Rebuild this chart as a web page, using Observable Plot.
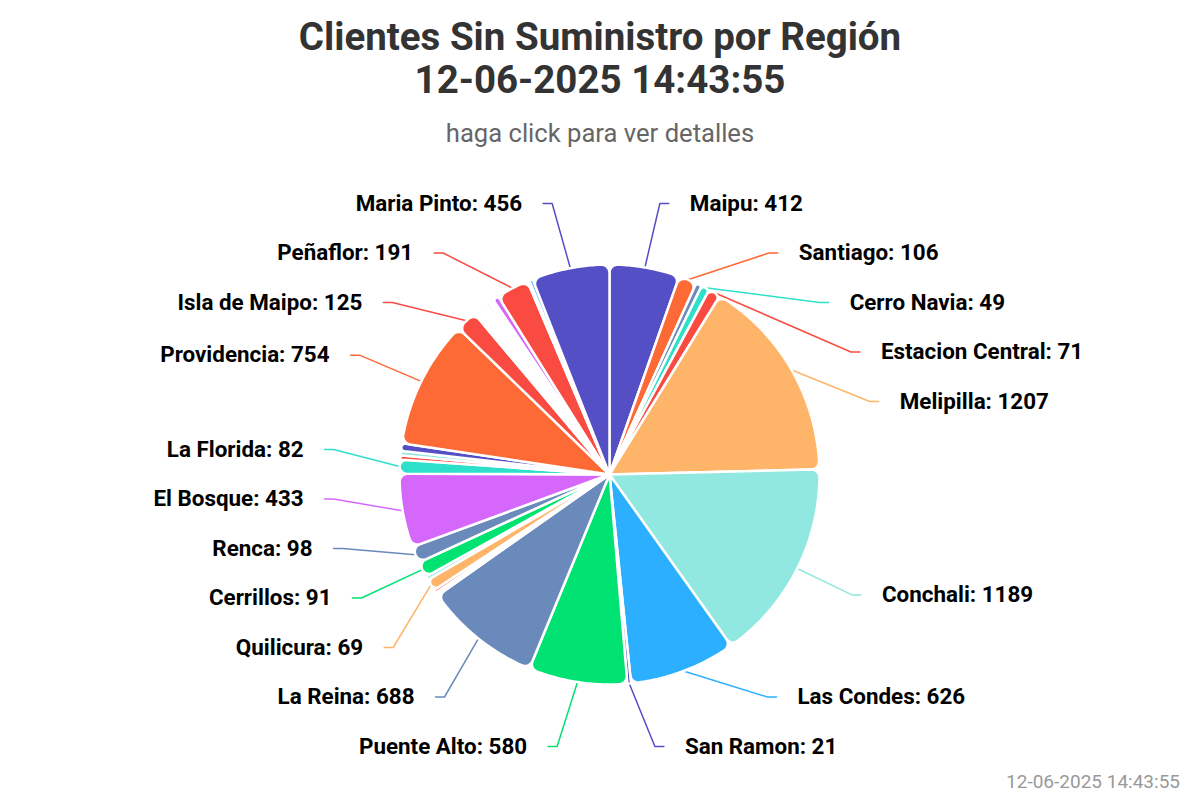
<!DOCTYPE html>
<html>
<head>
<meta charset="utf-8">
<script src="https://cdn.jsdelivr.net/npm/d3@7"></script>
<script src="https://cdn.jsdelivr.net/npm/@observablehq/plot@0.6"></script>
<style>
  body { margin: 0; background: #fff; font-family: Roboto, "Noto Sans", sans-serif; }
  #wrap { position: relative; width: 1200px; height: 800px; overflow: hidden; }
  #header { height: 160px; position: relative; }
  #title { position: absolute; top: 15px; left: 0; width: 1200px; text-align: center;
           font-weight: 700; font-size: 38.5px; line-height: 43px; color: #333333; }
  #subtitle { position: absolute; top: 119px; left: 0; width: 1200px; text-align: center;
              font-size: 25.6px; line-height: 28px; color: #666666; }
  #credit { position: absolute; top: 771px; right: 20px; font-size: 19px; line-height: 22px; color: #999999; }
</style>
</head>
<body>
<div id="wrap">
  <div id="header"><div id="title"></div><div id="subtitle"></div></div>
  <div id="chart"></div>
  <div id="credit"></div>
</div>
<script>
// ---- data ----
const titleLines = ["Clientes Sin Suministro por Región", "12-06-2025 14:43:55"];
const subtitleText = "haga click para ver detalles";
const creditText = "12-06-2025 14:43:55";

// slices clockwise from 12 o'clock ("" = small unlabelled slice)
const regions = [
  "Maipu", "Santiago", "", "Cerro Navia", "Estacion Central", "Melipilla", "Conchali",
  "Las Condes", "San Ramon", "Puente Alto", "La Reina", "", "", "", "Quilicura", "",
  "Cerrillos", "Renca", "El Bosque", "La Florida", "", "", "", "Providencia", "Isla de Maipo",
  "", "", "", "", "", "", "", "", "", "", "Peñaflor", "", "", "Maria Pinto"
];
const values = [
  412, 106, 35, 49, 71, 1207, 1189,
  626, 21, 580, 688, 10, 10, 18, 69, 22,
  91, 98, 433, 82, 25, 25, 45, 754, 125,
  15, 15, 15, 15, 15, 15, 15, 15, 15, 35, 191, 12, 20, 456
];
const sliceColors = [
  "#544fc5", "#fe6a35", "#6b8abc", "#2ee0ca", "#fa4b42", "#feb56a", "#91e8e1",
  "#2caffe", "#544fc5", "#00e272", "#6b8abc", "#91e8e1", "#2ee0ca", "#fa4b42", "#feb56a", "#91e8e1",
  "#00e272", "#6b8abc", "#d568fb", "#2ee0ca", "#fa4b42", "#91e8e1", "#544fc5", "#fe6a35", "#fa4b42",
  "#feb56a", "#91e8e1", "#2caffe", "#544fc5", "#00e272", "#fe6a35", "#6b8abc", "#2ee0ca", "#feb56a",
  "#d568fb", "#fa4b42", "#feb56a", "#2caffe", "#544fc5"
];

// ---- layout ----
const W = 1200, H = 640;          // svg size
const CX = 609, CY = 314, R = 210; // pie centre / radius in svg px
const RC = 8;                      // corner radius px
const LABEL_R = 277, SLOT = 49.5, LABEL_TOP = 43, LABEL_BOTTOM = 586;
const PAD_RIGHT = 23, PAD_LEFT = 30, CONN_END = 21, CONN_BEND = 30;

document.getElementById("title").innerHTML = titleLines.join("<br>");
document.getElementById("subtitle").textContent = subtitleText;
document.getElementById("credit").textContent = creditText;

const data = regions.map((name, i) => ({i, name, value: values[i], color: sliceColors[i]}));
const arcs = d3.pie().sort(null).value(d => d.value)(data);

const polar = (r, a) => [r * Math.sin(a), r * Math.cos(a)];
const toUnitX = px => (px - CX) / R;
const toUnitY = py => (CY - py) / R;

// slice outlines (in pie units, radius 1)
const slicePts = [];
arcs.forEach(arc => {
  const a0 = arc.startAngle, a1 = arc.endAngle, w = a1 - a0;
  const s = Math.sin(w / 2);
  const rc = Math.min(RC / R, s / (1 + s));
  const delta = Math.asin(rc / (1 - rc));
  const pts = [[0, 0]];
  const N = 8;
  const c1 = polar(1 - rc, a0 + delta);
  for (let t = 0; t <= N; t++) {
    const phi = (a0 - Math.PI / 2) + (Math.PI / 2 + delta) * t / N;
    pts.push([c1[0] + rc * Math.sin(phi), c1[1] + rc * Math.cos(phi)]);
  }
  const span = w - 2 * delta;
  const M = Math.max(2, Math.ceil(span / 0.01));
  for (let t = 1; t < M; t++) pts.push(polar(1, a0 + delta + span * t / M));
  const c2 = polar(1 - rc, a1 - delta);
  for (let t = 0; t <= N; t++) {
    const phi = (a1 - delta) + (Math.PI / 2 + delta) * t / N;
    pts.push([c2[0] + rc * Math.sin(phi), c2[1] + rc * Math.cos(phi)]);
  }
  pts.push([0, 0]);
  pts.forEach(([x, y]) => slicePts.push({k: arc.data.i, x, y, color: arc.data.color}));
});

// labels
const labels = arcs.filter(a => a.data.name !== "").map(a => {
  const mid = (a.startAngle + a.endAngle) / 2;
  return {
    i: a.data.i, name: a.data.name, value: a.data.value, color: a.data.color, mid,
    side: mid < Math.PI ? "right" : "left",
    ny: CY - (LABEL_R - 8) * Math.cos(mid)
  };
});

function distribute(items) {
  items.sort((a, b) => a.ny - b.ny);
  const place = c => {
    const n = c.items.length;
    const mean = d3.mean(c.items, d => d.ny);
    let start = mean - (n - 1) * SLOT / 2;
    start = Math.max(LABEL_TOP, Math.min(LABEL_BOTTOM - (n - 1) * SLOT, start));
    c.start = start;
    return c;
  };
  let clusters = items.map(d => place({items: [d]}));
  let merged = true;
  while (merged) {
    merged = false;
    for (let j = 0; j < clusters.length - 1; j++) {
      const a = clusters[j], b = clusters[j + 1];
      if (a.start + a.items.length * SLOT > b.start + 0.01) {
        clusters.splice(j, 2, place({items: a.items.concat(b.items)}));
        merged = true;
        break;
      }
    }
  }
  clusters.forEach(c => c.items.forEach((d, j) => d.ly = c.start + j * SLOT));
}
distribute(labels.filter(d => d.side === "right"));
distribute(labels.filter(d => d.side === "left"));

const connPts = [];
labels.forEach(d => {
  const sign = d.side === "right" ? 1 : -1;
  const pad = d.side === "right" ? PAD_RIGHT : PAD_LEFT;
  const dy = d.ly - CY;
  const off = Math.sqrt(Math.max(0, LABEL_R * LABEL_R - dy * dy));
  d.tx = CX + sign * (off + pad);
  d.text = `${d.name}: ${d.value}`;
  const start = polar(1, d.mid);
  connPts.push({k: d.i, x: start[0], y: start[1], color: d.color});
  connPts.push({k: d.i, x: toUnitX(d.tx - sign * CONN_BEND), y: toUnitY(d.ly), color: d.color});
  connPts.push({k: d.i, x: toUnitX(d.tx - sign * CONN_END), y: toUnitY(d.ly), color: d.color});
  d.ux = toUnitX(d.tx);
  d.uy = toUnitY(d.ly);
});

const textOpts = {fontFamily: "Roboto, sans-serif", fontSize: 22.4, fontWeight: "bold", fill: "#000000"};

const chart = Plot.plot({
  width: W, height: H,
  margin: 0,
  style: {background: "transparent", overflow: "visible"},
  x: {domain: [toUnitX(0), toUnitX(W)], axis: null},
  y: {domain: [toUnitY(H), toUnitY(0)], axis: null},
  color: {type: "identity"},
  marks: [
    Plot.line(connPts, {x: "x", y: "y", z: "k", stroke: "color", strokeWidth: 1.5, curve: "linear"}),
    Plot.line(slicePts, {x: "x", y: "y", z: "k", fill: "color", stroke: "white",
                         strokeWidth: 2.5, strokeLinejoin: "round", curve: "linear"}),
    Plot.text(labels.filter(d => d.side === "right"), {x: "ux", y: "uy", text: "text", textAnchor: "start", ...textOpts}),
    Plot.text(labels.filter(d => d.side === "left"), {x: "ux", y: "uy", text: "text", textAnchor: "end", ...textOpts})
  ]
});
document.getElementById("chart").appendChild(chart);
</script>
</body>
</html>
